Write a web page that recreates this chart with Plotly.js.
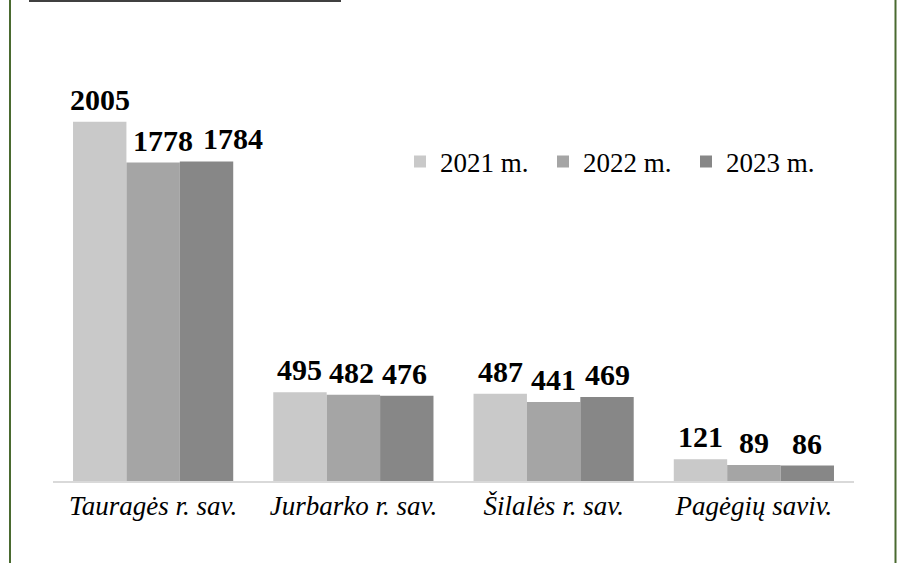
<!DOCTYPE html>
<html>
<head>
<meta charset="utf-8">
<script src="https://cdn.plot.ly/plotly-3.0.1.min.js"></script>
<style>html,body{margin:0;padding:0;background:#fff;}#chart{width:901px;height:563px;}</style>
</head>
<body>
<div id="chart"></div>
<script>
const categories = ["Tauragės r. sav.", "Jurbarko r. sav.", "Šilalės r. sav.", "Pagėgių saviv."];
const seriesNames = ["2021 m.", "2022 m.", "2023 m."];
const values2021 = [2005, 495, 487, 121];
const values2022 = [1778, 482, 441, 89];
const values2023 = [1784, 476, 469, 86];
const colors = ["#c9c9c9", "#a5a5a5", "#878787"];

const serif = "'Liberation Serif', 'Times New Roman', Times, serif";
const allValues = [values2021, values2022, values2023];

const L = 53, R = 47, T = 69, B = 82;
const W = 901, H = 563;
const pw = W - L - R, ph = H - T - B;
const px = x => (x - L) / pw;
const py = y => (H - B - y) / ph;

// label nudges (px) so the crowded first-group labels don't collide, as in the original
const labelNudge = [[0, 0, 0, 0], [10, -2, 0, 0], [26, -2, 0, 0]];
const barW = pw / categories.length * 0.8 / 3;

const traces = allValues.map((vals, i) => ({
  type: "bar",
  name: seriesNames[i],
  x: categories,
  y: vals,
  marker: {color: colors[i]},
  hoverinfo: "none"
}));

const annotations = [];
allValues.forEach((vals, i) => {
  vals.forEach((v, j) => {
    annotations.push({
      xref: "x", yref: "y", x: categories[j], y: v,
      text: String(v), showarrow: false,
      xanchor: "center", yanchor: "bottom",
      xshift: (i - 1) * barW + labelNudge[i][j], yshift: 4,
      font: {family: serif, size: 30, color: "#000", weight: "bold"}
    });
  });
});

const layout = {
  width: W, height: H,
  margin: {l: L, r: R, t: T, b: B, pad: 0},
  paper_bgcolor: "#fff",
  plot_bgcolor: "#fff",
  barmode: "group",
  bargap: 0.2,
  bargroupgap: 0,
  font: {family: serif, color: "#000"},
  showlegend: true,
  legend: {
    orientation: "h",
    x: px(400), y: py(162), xanchor: "left", yanchor: "middle",
    font: {family: serif, size: 27, color: "#000"},
    bgcolor: "rgba(0,0,0,0)",
    traceorder: "normal",
    entrywidth: 98
  },
  xaxis: {
    showline: true, linecolor: "#d9d9d9", linewidth: 1.5,
    ticks: "", showgrid: false, zeroline: false,
    tickfont: {family: serif, size: 27, color: "#000", style: "italic"},
    fixedrange: true
  },
  yaxis: {
    visible: false, range: [0, 2300], showgrid: false, zeroline: false, fixedrange: true
  },
  annotations: annotations,
  shapes: [
    {type: "line", xref: "paper", yref: "paper", x0: px(10), x1: px(10), y0: py(0), y1: py(563), line: {color: "#4a6a30", width: 2}},
    {type: "line", xref: "paper", yref: "paper", x0: px(895.5), x1: px(895.5), y0: py(0), y1: py(563), line: {color: "#4a6a30", width: 2}},
    {type: "line", xref: "paper", yref: "paper", x0: px(29), x1: px(341), y0: py(1), y1: py(1), line: {color: "#000", width: 1.5}}
  ]
};

Plotly.newPlot("chart", traces, layout, {displayModeBar: false, staticPlot: true});
</script>
</body>
</html>
